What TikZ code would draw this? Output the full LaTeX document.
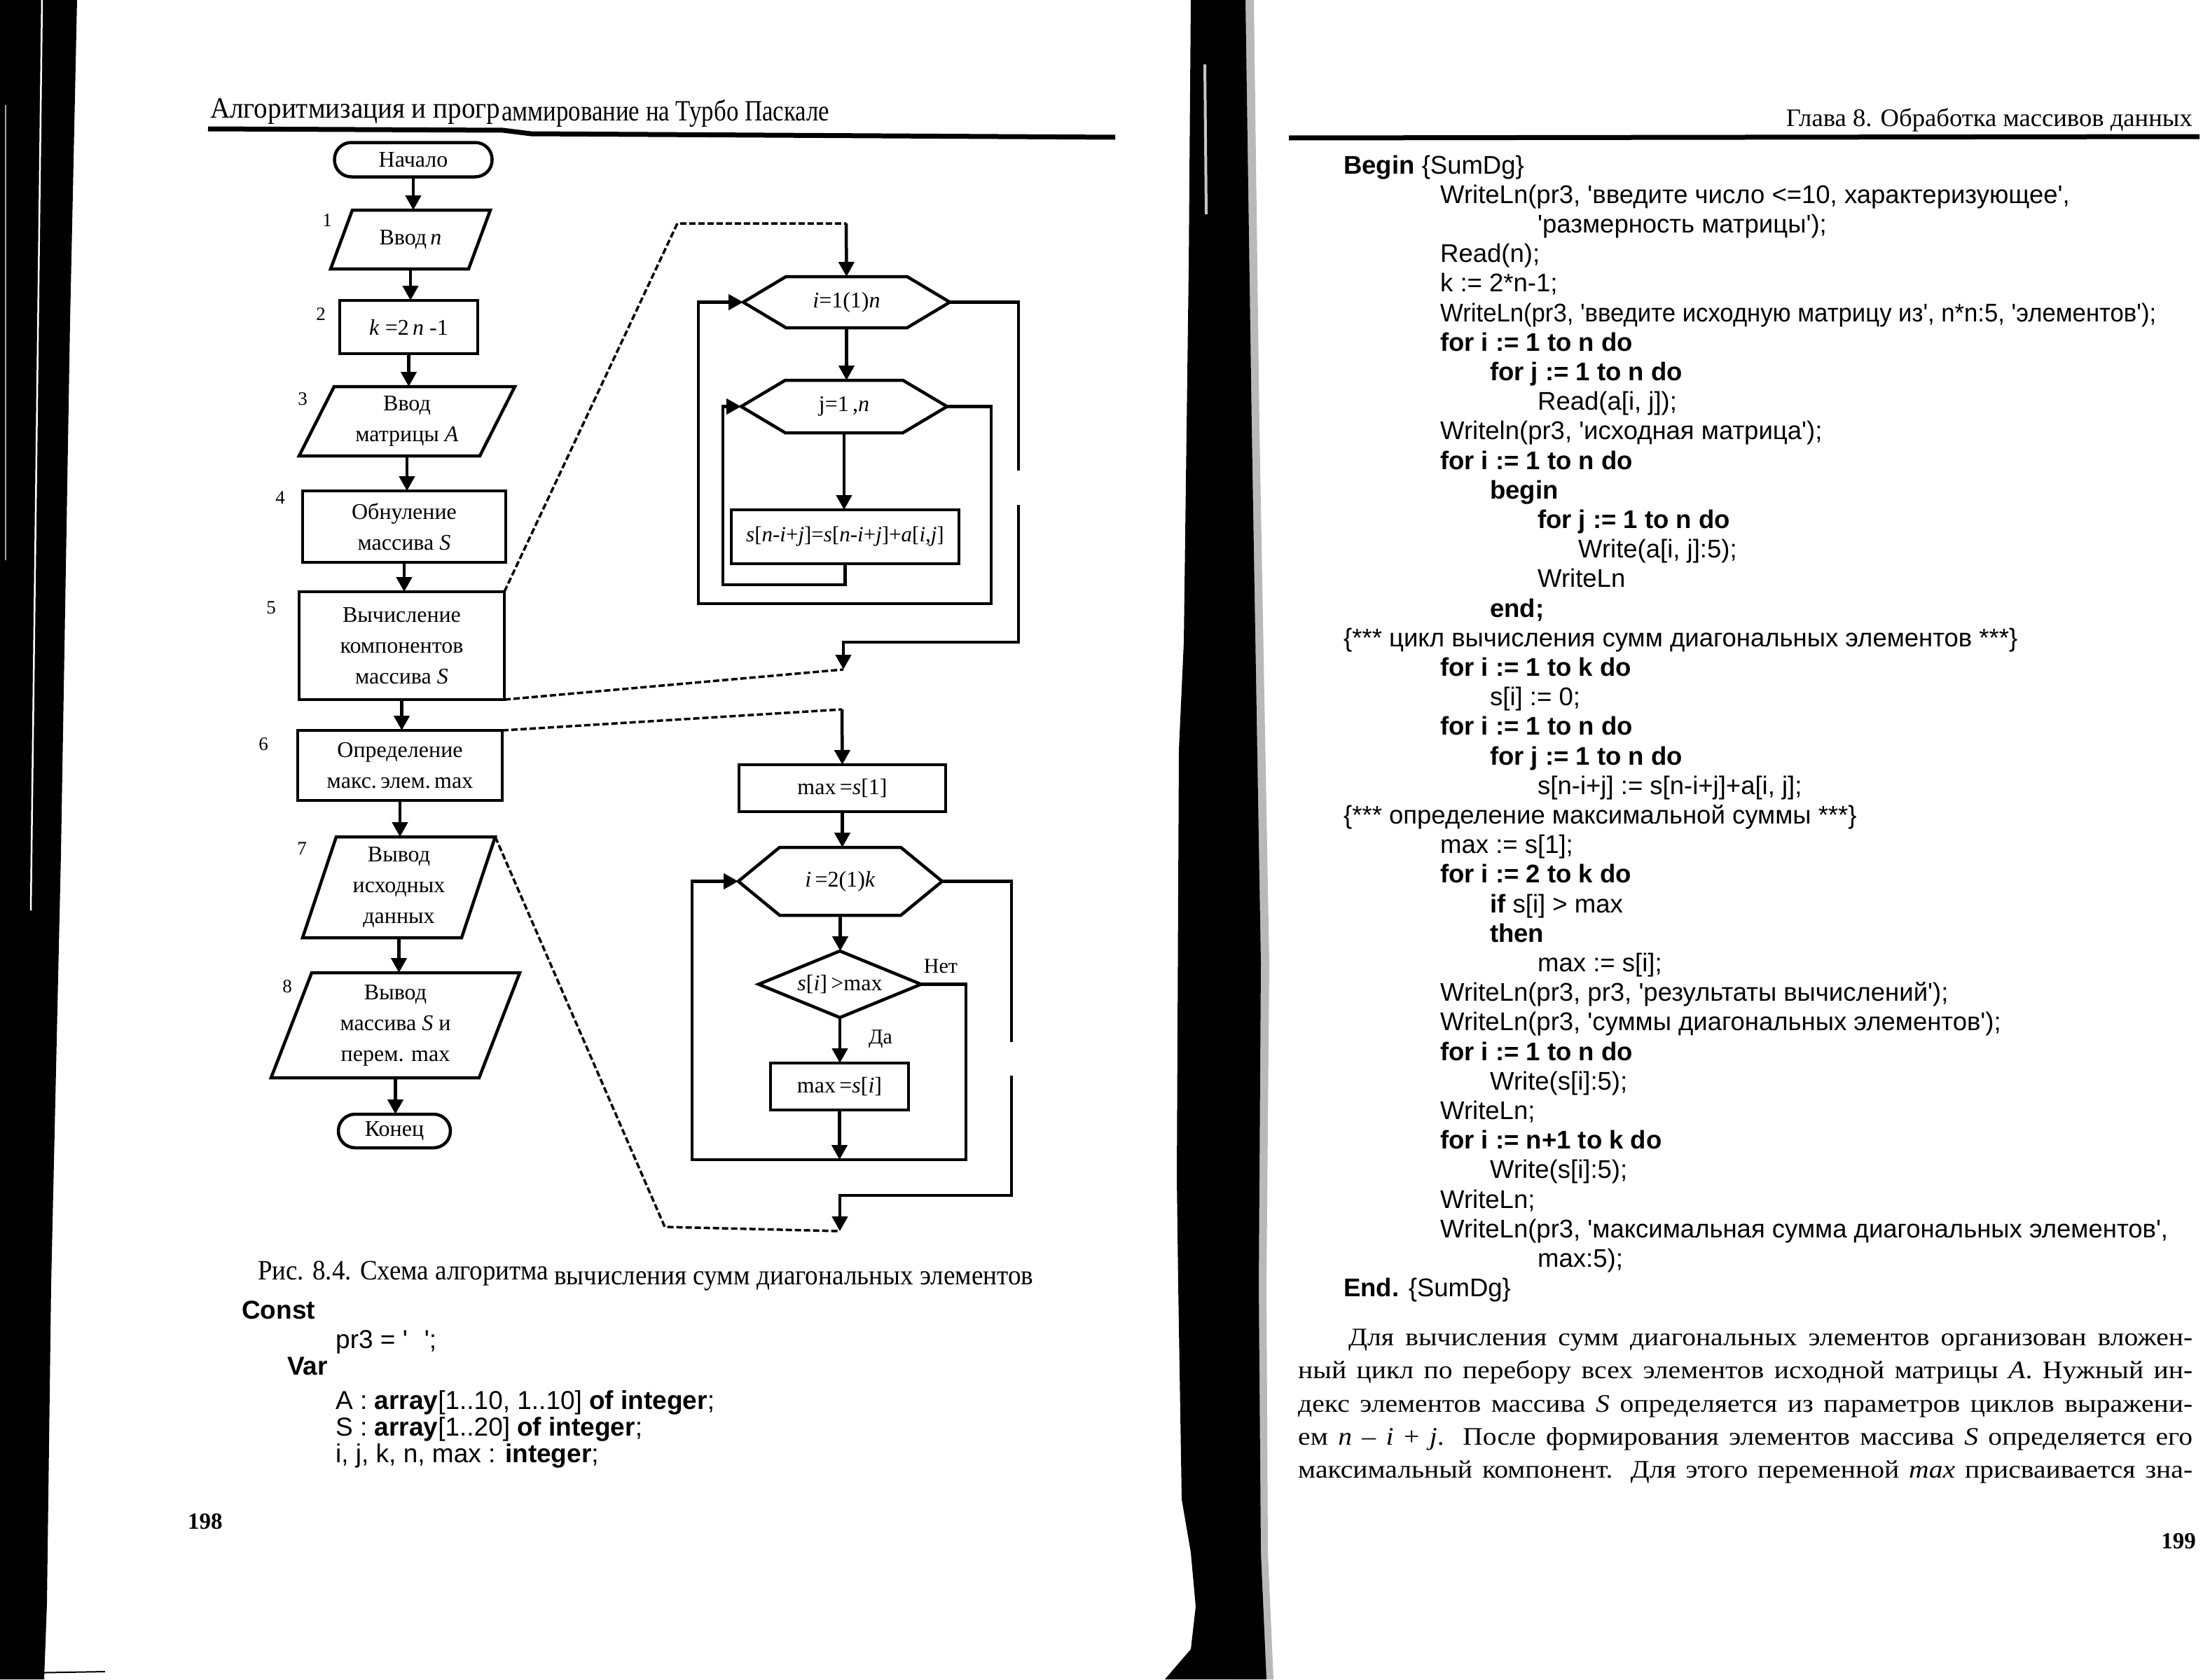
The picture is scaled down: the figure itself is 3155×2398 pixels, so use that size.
\documentclass[tikz,border=0pt]{standalone}
\usepackage{fontspec}
\usepackage{graphicx}
\setmainfont{Liberation Serif}
\newfontfamily\codefont[Ligatures=TeXOff]{Liberation Sans}
\newfontfamily\bodyfont[FakeStretch=1.1]{Liberation Serif}
\usetikzlibrary{arrows.meta,calc}

\newcommand\flowfont{\fontsize{32}{44}\selectfont}
\newcommand\codesize{\codefont\fontsize{36.5}{40}\selectfont}
\newcommand\declsize{\codefont\fontsize{37}{40}\selectfont}

% outlines drawn around invisible anchor nodes
\newcommand\paraframe[2]{\draw[flow] ($(#1.north west)+(#2,0)$) -- (#1.north east) -- ($(#1.south east)+(-#2,0)$) -- (#1.south west) -- cycle;}
\newcommand\hexframe[2]{\draw[flow] (#1.west) -- ($(#1.north west)+(#2,0)$) -- ($(#1.north east)+(-#2,0)$) -- (#1.east) -- ($(#1.south east)+(-#2,0)$) -- ($(#1.south west)+(#2,0)$) -- cycle;}
\newcommand\diaframe[1]{\draw[flow] (#1.north) -- (#1.east) -- (#1.south) -- (#1.west) -- cycle;}
% one line of the program listing: name, indent, line number, text
\newcommand\codeline[4]{\node[codetxt] (#1) at ({#2},{248+42.2*#3}) {#4};}

\tikzset{
  flow/.style={line width=4.5pt, line join=miter},
  arr/.style={line width=4.5pt, -{Triangle[length=21pt,width=22pt]}},
  dsh/.style={line width=3.5pt, dash pattern=on 9pt off 4pt},
  rect/.style={draw, line width=4.5pt, inner sep=0pt, outer sep=0pt, align=center, font=\flowfont},
  frame/.style={inner sep=0pt, outer sep=0pt, align=center, font=\flowfont},
  term/.style={draw, line width=4.5pt, rounded corners=24pt, inner sep=0pt, outer sep=0pt, font=\flowfont},
  num/.style={inner sep=0pt, font=\fontsize{27}{30}\selectfont},
  lab/.style={inner sep=0pt, font=\fontsize{30}{34}\selectfont},
  codetxt/.style={anchor=base west, inner sep=0pt, font=\codesize},
  decl/.style={anchor=base west, inner sep=0pt, font=\declsize},
  bodytxt/.style={anchor=base west, inner sep=0pt, font=\bodyfont\fontsize{36}{40}\selectfont},
}

\begin{document}
\begin{tikzpicture}[x=1pt,y=-1pt]
\useasboundingbox (0,0) rectangle (3155,2398);
\fill[white] (0,0) rectangle (3155,2398);

% ---- dark page edge and spine ----
\fill[black] (0,0) -- (110,0) -- (100,460) -- (87,1220) -- (73,1835) -- (67,2290) -- (63,2398) -- (0,2398) -- cycle;
\draw[white, line width=2.5pt] (60,0) -- (44,1300);
\draw[gray!70, line width=2pt] (8,150) -- (8,800);
\draw[line width=2pt] (35,2389) -- (150,2387);
\fill[gray!55] (1760,0) -- (1790,0) -- (1798,612) -- (1812,1376) -- (1808,1835) -- (1810,2217) -- (1818,2398) -- (1760,2398) -- cycle;
\fill[black] (1700,0) -- (1778,0) -- (1787,612) -- (1800,1376) -- (1797,1835) -- (1800,2217) -- (1808,2398) -- (1663,2398) -- (1700,2355) -- (1707,2294) -- (1700,2217) -- (1687,2141) -- (1682,1835) -- (1680,1682) -- (1683,1070) -- (1690,917) -- (1697,382) -- cycle;
\draw[gray!45, line width=4pt] (1720,92) -- (1722,306);

% ---- running heads ----
\node[anchor=base west, inner sep=0pt] (hdA) at (300,168) {\resizebox{414pt}{\height}{\fontsize{42}{44}\selectfont Алгоритмизация и прогр}};
\node[anchor=base west, inner sep=0pt] (hdB) at (716,172) {\resizebox{468pt}{\height}{\fontsize{42}{44}\selectfont аммирование на Турбо Паскале}};
\draw[line width=7pt] (297,184) -- (718,186) -- (758,191) -- (1592,196);
\node[anchor=base east, inner sep=0pt] (hdR) at (3130,180) {\resizebox{580pt}{\height}{\fontsize{36}{40}\selectfont Глава 8. Обработка массивов данных}};
\draw[line width=7pt] (1840,197) -- (3140,195);

% ---- main flowchart ----
\node[term, minimum width=225pt, minimum height=49pt] (start) at (590,228) {Начало};
\node[frame, minimum width=228pt, minimum height=84pt] (b1) at (586,342) {Ввод\,\textit{n}};
\paraframe{b1}{31}
\node[rect, minimum width=197pt, minimum height=76pt] (b2) at (583.5,467) {\textit{k} =2\,\textit{n} -1};
\node[frame, minimum width=308pt, minimum height=99pt] (b3) at (581,601.5) {Ввод\\матрицы \textit{A}};
\paraframe{b3}{50}
\node[rect, minimum width=290pt, minimum height=102pt] (b4) at (577,752) {Обнуление\\массива \textit{S}};
\node[rect, minimum width=293pt, minimum height=154pt] (b5) at (573.5,922) {Вычисление\\компонентов\\массива \textit{S}};
\node[rect, minimum width=292pt, minimum height=100pt] (b6) at (571,1093) {Определение\\макс.\,элем.\,max};
\node[frame, minimum width=275pt, minimum height=144pt] (b7) at (569.5,1267) {Вывод\\исходных\\данных};
\paraframe{b7}{48}
\node[frame, minimum width=355pt, minimum height=150pt] (b8) at (564.5,1464) {Вывод\\массива \textit{S} и\\перем. max};
\paraframe{b8}{58}
\node[term, minimum width=160pt, minimum height=48pt] (stop) at (563,1615) {Конец};

\draw[arr] (start.south) -- (start.south |- b1.north);
\draw[arr] (b1.south) -- (b1.south |- b2.north);
\draw[arr] (b2.south) -- (b2.south |- b3.north);
\draw[arr] (b3.south) -- (b3.south |- b4.north);
\draw[arr] (b4.south) -- (b4.south |- b5.north);
\draw[arr] (b5.south) -- (b5.south |- b6.north);
\draw[arr] (b6.south) -- (b6.south |- b7.north);
\draw[arr] (b7.south) -- (b7.south |- b8.north);
\draw[arr] (b8.south) -- (b8.south |- stop.north);

\node[num] (n1) at (467,315) {1};
\node[num] (n2) at (458,449) {2};
\node[num] (n3) at (432,570) {3};
\node[num] (n4) at (400,711) {4};
\node[num] (n5) at (387,868) {5};
\node[num] (n6) at (376,1063) {6};
\node[num] (n7) at (431,1212) {7};
\node[num] (n8) at (410,1409) {8};

% ---- detail of block 5 ----
\node[frame, minimum width=295pt, minimum height=73pt] (h1) at (1208.5,431.5) {\textit{i}=1(1)\textit{n}};
\hexframe{h1}{61}
\node[frame, minimum width=294pt, minimum height=75pt] (h2) at (1205,580.5) {j=1\,,\textit{n}};
\hexframe{h2}{63}
\node[rect, minimum width=325pt, minimum height=77pt, font=\fontsize{31}{34}\selectfont] (r1) at (1206.5,766.5) {\textit{s}[\textit{n}-\textit{i}+\textit{j}]=\textit{s}[\textit{n}-\textit{i}+\textit{j}]+\textit{a}[\textit{i},\textit{j}]};

\coordinate (e1) at (967,319);
\coordinate (e2) at (1208,319);
\draw[dsh] (b5.north east) -- (e1) -- (e2);
\draw[arr] (e2) -- (h1.north);
\draw[arr] (h1.south) -- (h1.south |- h2.north);
\draw[arr] (h2.south) -- (h2.south |- r1.north);
\coordinate (j1) at (1032,835);
\draw[arr] (r1.south) |- (j1) |- (h2.west);
\coordinate (o1) at (1415,862);
\coordinate (o2) at (997,862);
\draw[arr] (h2.east) -| (o1) -- (o2) |- (h1.west);
\coordinate (x1) at (1454,672);
\coordinate (x2) at (1454,721);
\coordinate (x3) at (1204,917);
\coordinate (c1) at (1204,956);
\draw[flow] (h1.east) -| (x1);
\draw[arr] (x2) |- (x3) -- (c1);
\draw[dsh] (b5.south east) -- (c1);

% ---- detail of block 6 ----
\coordinate (e3) at (1202,1013);
\draw[dsh] (b6.north east) -- (e3);
\node[rect, minimum width=295pt, minimum height=67pt] (r2) at (1202.5,1125.5) {max\,=\textit{s}[1]};
\draw[arr] (e3) -- (r2.north);
\node[frame, minimum width=291pt, minimum height=97pt] (h3) at (1199.5,1258.5) {\textit{i}\,=2(1)\textit{k}};
\hexframe{h3}{59}
\draw[arr] (r2.south) -- (r2.south |- h3.north);
\node[frame, minimum width=232pt, minimum height=95pt] (d1) at (1199,1405.5) {\textit{s}[\textit{i}]\,>max};
\diaframe{d1}
\draw[arr] (h3.south) -- (h3.south |- d1.north);
\node[rect, minimum width=197pt, minimum height=67pt] (r3) at (1198.5,1551.5) {max\,=\textit{s}[\textit{i}]};
\draw[arr] (d1.south) -- (d1.south |- r3.north);
\node[lab] (yes) at (1257,1484) {Да};
\node[lab] (no) at (1343,1380) {Нет};
\coordinate (p1) at (1379,1656);
\coordinate (p2) at (988,1656);
\draw[arr] (d1.east) -| (p1) -- (p2) |- (h3.west);
\draw[arr] (r3.south) -- (r3.south |- p1);
\coordinate (x4) at (1444,1488);
\coordinate (x5) at (1444,1536);
\coordinate (x6) at (1199,1707);
\coordinate (c2) at (1199,1758);
\draw[flow] (h3.east) -| (x4);
\draw[arr] (x5) |- (x6) -- (c2);
\coordinate (e4) at (949,1752);
\draw[dsh] (b7.north east) -- (e4) -- (c2);

% ---- caption ----
\node[anchor=base west, inner sep=0pt] (capA) at (368,1827) {\resizebox{415pt}{\height}{\fontsize{40}{44}\selectfont Рис. 8.4. Схема алгоритма}};
\node[anchor=base west, inner sep=0pt] (capB) at (791,1834) {\resizebox{684pt}{\height}{\fontsize{40}{44}\selectfont вычисления сумм диагональных элементов}};

% ---- declarations ----
\node[decl] (k1) at (345,1883) {\textbf{Const}};
\node[decl] (k2) at (479,1925) {pr3 = '\hspace{24pt}';};
\node[decl] (k3) at (410,1963) {\textbf{Var}};
\node[decl] (k4) at (479,2012) {A : \textbf{array}[1..10, 1..10] \textbf{of integer};};
\node[decl] (k5) at (479,2050) {S : \textbf{array}[1..20] \textbf{of integer};};
\node[decl] (k6) at (479,2088) {i, j, k, n, max : \textbf{integer};};

\node[anchor=base west, inner sep=0pt, font=\bfseries\fontsize{33}{40}\selectfont] (pgL) at (268,2183) {198};

% ---- program body ----
\codeline{c0}{1918}{0}{\textbf{Begin} \{SumDg\}}
\codeline{c1}{2056}{1}{WriteLn(pr3, 'введите число <=10, характеризующее',}
\codeline{c2}{2195}{2}{'размерность матрицы');}
\codeline{c3}{2056}{3}{Read(n);}
\codeline{c4}{2056}{4}{k := 2*n-1;}
\codeline{c5}{2056}{5}{\resizebox{1022pt}{\height}{WriteLn(pr3, 'введите исходную матрицу из', n*n:5, 'элементов');}}
\codeline{c6}{2056}{6}{\textbf{for i := 1 to n do}}
\codeline{c7}{2127}{7}{\textbf{for j := 1 to n do}}
\codeline{c8}{2195}{8}{Read(a[i, j]);}
\codeline{c9}{2056}{9}{Writeln(pr3, 'исходная матрица');}
\codeline{c10}{2056}{10}{\textbf{for i := 1 to n do}}
\codeline{c11}{2127}{11}{\textbf{begin}}
\codeline{c12}{2195}{12}{\textbf{for j := 1 to n do}}
\codeline{c13}{2253}{13}{Write(a[i, j]:5);}
\codeline{c14}{2195}{14}{WriteLn}
\codeline{c15}{2127}{15}{\textbf{end;}}
\codeline{c16}{1918}{16}{\{*** цикл вычисления сумм диагональных элементов ***\}}
\codeline{c17}{2056}{17}{\textbf{for i := 1 to k do}}
\codeline{c18}{2127}{18}{s[i] := 0;}
\codeline{c19}{2056}{19}{\textbf{for i := 1 to n do}}
\codeline{c20}{2127}{20}{\textbf{for j := 1 to n do}}
\codeline{c21}{2195}{21}{s[n-i+j] := s[n-i+j]+a[i, j];}
\codeline{c22}{1918}{22}{\{*** определение максимальной суммы ***\}}
\codeline{c23}{2056}{23}{max := s[1];}
\codeline{c24}{2056}{24}{\textbf{for i := 2 to k do}}
\codeline{c25}{2127}{25}{\textbf{if} s[i] > max}
\codeline{c26}{2127}{26}{\textbf{then}}
\codeline{c27}{2195}{27}{max := s[i];}
\codeline{c28}{2056}{28}{WriteLn(pr3, pr3, 'результаты вычислений');}
\codeline{c29}{2056}{29}{WriteLn(pr3, 'суммы диагональных элементов');}
\codeline{c30}{2056}{30}{\textbf{for i := 1 to n do}}
\codeline{c31}{2127}{31}{Write(s[i]:5);}
\codeline{c32}{2056}{32}{WriteLn;}
\codeline{c33}{2056}{33}{\textbf{for i := n+1 to k do}}
\codeline{c34}{2127}{34}{Write(s[i]:5);}
\codeline{c35}{2056}{35}{WriteLn;}
\codeline{c36}{2056}{36}{WriteLn(pr3, 'максимальная сумма диагональных элементов',}
\codeline{c37}{2195}{37}{max:5);}
\codeline{c38}{1918}{38}{\textbf{End.} \{SumDg\}}

% ---- paragraph ----
\node[bodytxt] (t1) at (1925,1921) {\hbox to 1205pt{Для вычисления сумм диагональных элементов организован вложен-}};
\node[bodytxt] (t2) at (1853,1968) {\hbox to 1277pt{ный цикл по перебору всех элементов исходной матрицы \textit{A}. Нужный ин-}};
\node[bodytxt] (t3) at (1853,2016) {\hbox to 1277pt{декс элементов массива \textit{S} определяется из параметров циклов выражени-}};
\node[bodytxt] (t4) at (1853,2063) {\hbox to 1277pt{ем \textit{n} – \textit{i} + \textit{j}. После формирования элементов массива \textit{S} определяется его}};
\node[bodytxt] (t5) at (1853,2110) {\hbox to 1277pt{максимальный компонент. Для этого переменной \textit{max} присваивается зна-}};

\node[anchor=base east, inner sep=0pt, font=\bfseries\fontsize{33}{40}\selectfont] (pgR) at (3135,2211) {199};
\end{tikzpicture}
\end{document}
